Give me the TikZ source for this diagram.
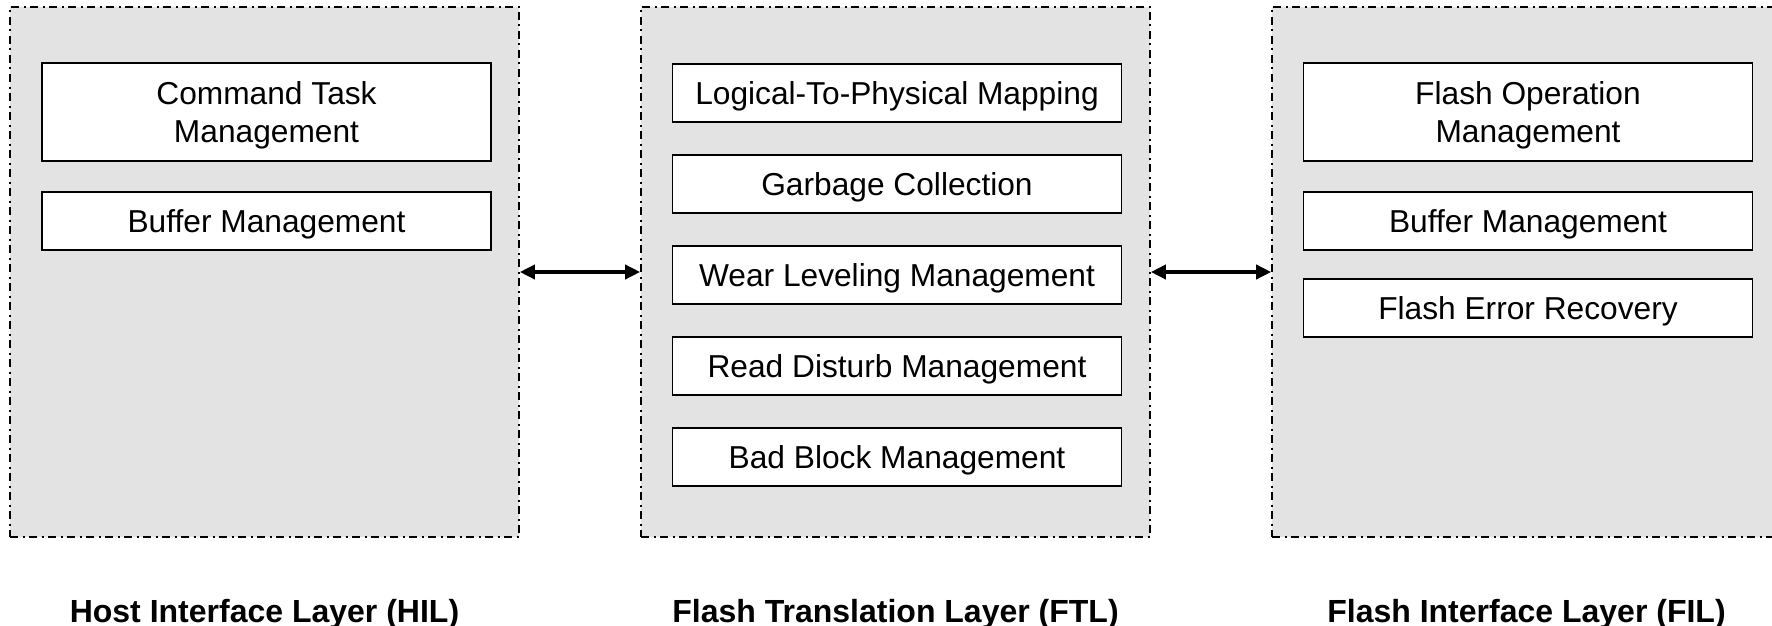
\documentclass[tikz,border=0pt]{standalone}
\usepackage{fontspec}
\setmainfont{Liberation Sans}
\usetikzlibrary{arrows.meta}
\definecolor{panelgray}{RGB}{227,227,227}
\begin{document}
\begin{tikzpicture}[x=1pt,y=-1pt,
  panel/.style={draw=black, line width=1.6pt,
    dash pattern=on 8pt off 4.5pt on 2pt off 4.5pt,
    fill=panelgray, minimum width=509pt, minimum height=530pt, inner sep=0pt},
  unit/.style={draw=black, line width=1.6pt, fill=white, minimum width=449pt,
    minimum height=58pt, inner sep=0pt, align=center,
    text height=22.7pt, text depth=0pt,
    font=\fontsize{31.7}{38}\selectfont},
  tallunit/.style={unit, minimum height=98pt, text height=60.7pt},
  layer/.style={font=\fontsize{32}{38}\selectfont\bfseries, anchor=base},
  link/.style={line width=3.5pt,
    {Triangle[length=15pt,width=14pt]}-{Triangle[length=15pt,width=14pt]}}
]
\useasboundingbox (0,0) rectangle (1772,626);
\clip (0,0) rectangle (1772,626);

% the three firmware layers
\node[panel] (hil) at (264.5,272) {};
\node[panel] (ftl) at (895.5,272) {};
\node[panel] (fil) at (1526.5,272) {};

% host interface layer
\node[tallunit] (cmd) at (266.5,112) {Command Task\\Management};
\node[unit] (hbuf) at (266.5,221) {Buffer Management};

% flash translation layer
\node[unit] (l2p) at (897,93) {Logical-To-Physical Mapping};
\node[unit] (gc) at (897,184) {Garbage Collection};
\node[unit] (wl) at (897,275) {Wear Leveling Management};
\node[unit] (rd) at (897,366) {Read Disturb Management};
\node[unit] (bb) at (897,457) {Bad Block Management};

% flash interface layer
\node[tallunit] (fop) at (1528,112) {Flash Operation\\Management};
\node[unit] (fbuf) at (1528,221) {Buffer Management};
\node[unit] (fer) at (1528,308) {Flash Error Recovery};

% layer captions
\node[layer] (hiltxt) at (264.5,622) {Host Interface Layer (HIL)};
\node[layer] (ftltxt) at (895.5,622) {Flash Translation Layer (FTL)};
\node[layer] (filtxt) at (1526.5,622) {Flash Interface Layer (FIL)};

% interfaces between layers
\draw[link] (hil.east) -- (ftl.west);
\draw[link] (ftl.east) -- (fil.west);
\end{tikzpicture}
\end{document}
